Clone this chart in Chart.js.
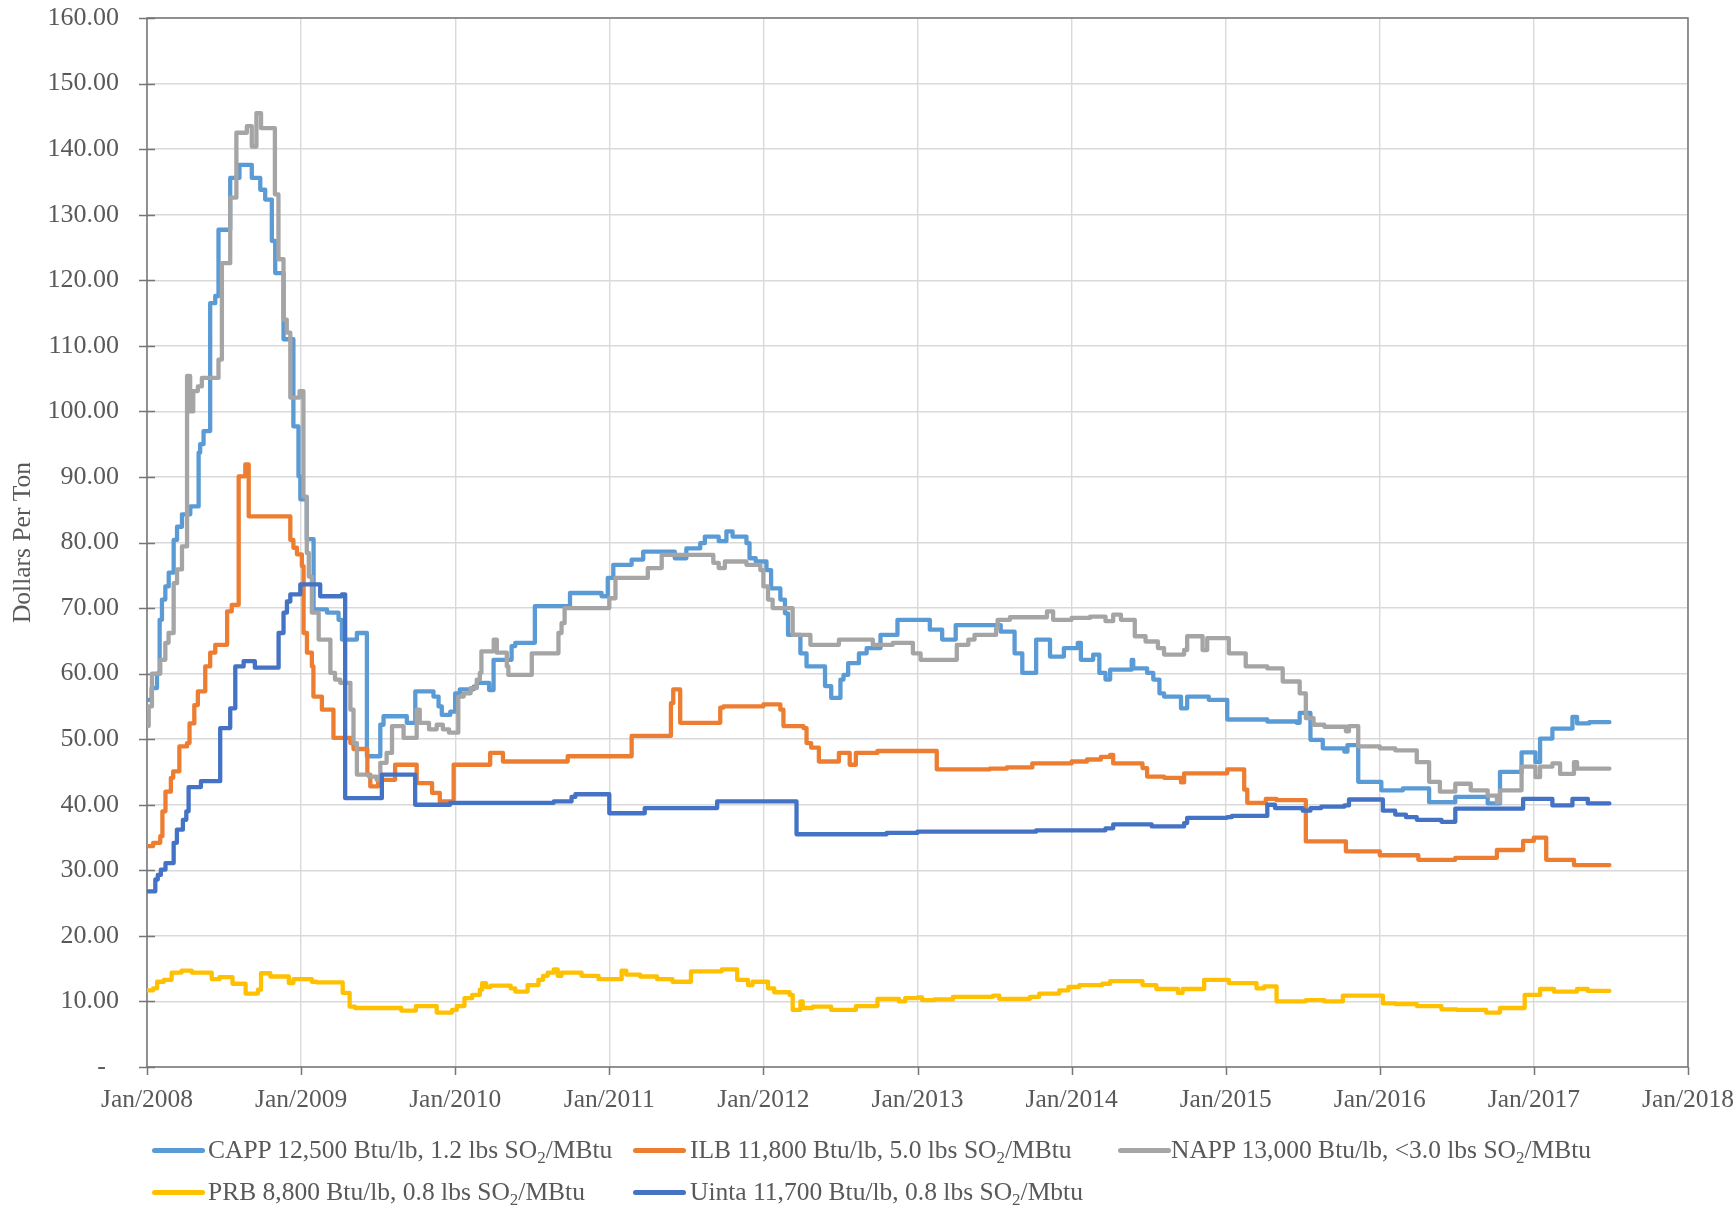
<!DOCTYPE html>
<html><head><meta charset="utf-8">
<script src="https://cdn.jsdelivr.net/npm/chart.js@4.4.0/dist/chart.umd.min.js"></script>
<style>
html,body{margin:0;padding:0;background:#fff;}
#wrap{position:relative;width:1736px;height:1208px;overflow:hidden;}
#c{position:absolute;left:0;top:0;}
.lt{position:absolute;font-family:"Liberation Serif","Times New Roman",serif;font-size:25.5px;color:#595959;white-space:nowrap;line-height:26px;}
.sw{position:absolute;height:5px;width:53px;border-radius:3px;}
.lt sub{font-size:17px;vertical-align:-5px;line-height:0;}
</style></head>
<body>
<div id="wrap"><canvas id="c" width="1736" height="1208"></canvas><div id="legend"></div></div>
<script>
// ---- data: [decimal year, $/ton], each value holds until the next point ----
const xTickYears = [2008,2009,2010,2011,2012,2013,2014,2015,2016,2017,2018];
const yTicks = [0,10,20,30,40,50,60,70,80,90,100,110,120,130,140,150,160];

const seriesNames = [
  'CAPP 12,500 Btu/lb, 1.2 lbs SO<sub>2</sub>/MBtu',
  'ILB 11,800 Btu/lb, 5.0 lbs SO<sub>2</sub>/MBtu',
  'NAPP 13,000 Btu/lb, &lt;3.0 lbs SO<sub>2</sub>/MBtu',
  'PRB 8,800 Btu/lb, 0.8 lbs SO<sub>2</sub>/MBtu',
  'Uinta 11,700 Btu/lb, 0.8 lbs SO<sub>2</sub>/Mbtu'
];
const seriesLabels = ['CAPP 12,500 Btu/lb, 1.2 lbs SO2/MBtu','ILB 11,800 Btu/lb, 5.0 lbs SO2/MBtu','NAPP 13,000 Btu/lb, <3.0 lbs SO2/MBtu','PRB 8,800 Btu/lb, 0.8 lbs SO2/MBtu','Uinta 11,700 Btu/lb, 0.8 lbs SO2/Mbtu'];
const seriesColors = ['#5B9BD5','#ED7D31','#A5A5A5','#FFC000','#4472C4'];

const capp = [
 [2008.000,56.0],[2008.030,57.8],[2008.065,60.0],[2008.082,68.2],[2008.097,71.3],[2008.119,73.3],[2008.141,75.4],
 [2008.173,80.4],[2008.195,82.4],[2008.227,84.3],[2008.281,85.5],[2008.335,93.7],[2008.345,95.0],[2008.367,97.0],
 [2008.410,116.5],[2008.443,117.6],[2008.464,127.7],[2008.540,135.6],[2008.600,137.6],[2008.680,135.6],[2008.735,133.8],
 [2008.767,132.3],[2008.810,126.0],[2008.832,121.1],[2008.886,111.0],[2008.950,97.7],[2008.983,90.1],[2008.995,86.6],
 [2009.037,80.5],[2009.081,69.8],[2009.168,69.3],[2009.243,68.2],[2009.265,65.2],[2009.362,66.2],[2009.427,47.4],
 [2009.514,52.2],[2009.535,53.5],[2009.686,52.5],[2009.741,57.3],[2009.859,56.5],[2009.892,55.0],[2009.913,53.7],
 [2009.968,54.2],[2010.000,57.0],[2010.030,57.6],[2010.120,58.0],[2010.141,58.6],[2010.220,57.5],[2010.249,62.1],
 [2010.366,64.2],[2010.390,64.7],[2010.517,70.3],[2010.745,72.3],[2010.950,71.8],[2010.990,74.6],[2011.026,76.6],
 [2011.145,77.4],[2011.220,78.6],[2011.425,77.6],[2011.500,79.1],[2011.590,79.9],[2011.620,80.9],[2011.710,80.2],
 [2011.760,81.7],[2011.800,80.9],[2011.890,79.9],[2011.910,77.6],[2011.950,77.1],[2012.020,75.8],[2012.050,73.0],
 [2012.110,71.3],[2012.140,69.2],[2012.160,65.9],[2012.240,63.1],[2012.280,61.1],[2012.400,58.1],[2012.440,56.3],
 [2012.500,59.1],[2012.520,59.8],[2012.550,61.6],[2012.620,63.1],[2012.670,63.9],[2012.760,65.9],[2012.870,68.2],
 [2013.080,66.7],[2013.160,65.2],[2013.248,67.4],[2013.540,66.4],[2013.630,63.1],[2013.680,60.1],[2013.770,65.2],
 [2013.860,62.6],[2013.950,63.9],[2014.040,64.7],[2014.060,62.1],[2014.140,62.9],[2014.180,60.1],[2014.220,59.1],
 [2014.250,60.6],[2014.390,62.1],[2014.400,60.8],[2014.490,60.1],[2014.530,59.1],[2014.570,57.0],[2014.600,56.5],
 [2014.710,54.7],[2014.750,56.5],[2014.890,56.0],[2015.010,53.0],[2015.270,52.7],[2015.460,52.5],[2015.480,54.0],
 [2015.550,49.9],[2015.630,48.6],[2015.770,48.1],[2015.790,49.1],[2015.860,43.5],[2016.010,42.2],[2016.150,42.5],
 [2016.320,40.4],[2016.490,41.2],[2016.700,40.2],[2016.780,45.0],[2016.920,48.0],[2017.010,46.5],[2017.040,50.1],
 [2017.120,51.6],[2017.250,53.4],[2017.280,52.4],[2017.360,52.6],[2017.490,52.6]
];

const ilb = [
 [2008.000,33.7],[2008.040,34.2],[2008.086,35.2],[2008.100,39.0],[2008.120,42.0],[2008.155,44.1],[2008.170,45.1],
 [2008.210,48.9],[2008.260,49.4],[2008.276,52.4],[2008.307,55.2],[2008.330,57.3],[2008.378,61.1],[2008.410,63.2],
 [2008.443,64.4],[2008.520,69.5],[2008.550,70.5],[2008.595,90.1],[2008.638,91.9],[2008.660,84.0],[2008.930,80.4],
 [2008.950,79.2],[2008.973,78.2],[2009.005,76.4],[2009.016,66.2],[2009.038,63.2],[2009.070,61.1],[2009.080,56.5],
 [2009.135,54.5],[2009.210,50.2],[2009.320,49.4],[2009.340,48.5],[2009.430,44.6],[2009.449,42.8],[2009.500,43.8],
 [2009.610,46.1],[2009.750,43.3],[2009.850,41.8],[2009.900,40.5],[2009.990,46.1],[2010.227,47.9],[2010.310,46.6],
 [2010.730,47.4],[2011.145,50.5],[2011.400,55.5],[2011.415,57.6],[2011.460,52.5],[2011.720,54.8],[2011.740,55.0],
 [2012.000,55.3],[2012.110,54.5],[2012.130,52.0],[2012.260,51.7],[2012.280,49.4],[2012.310,48.7],[2012.360,46.6],
 [2012.490,47.9],[2012.560,46.1],[2012.600,47.9],[2012.740,48.2],[2013.125,45.4],[2013.470,45.5],[2013.580,45.7],
 [2013.745,46.3],[2014.000,46.6],[2014.100,46.9],[2014.190,47.3],[2014.250,47.6],[2014.270,46.3],[2014.460,45.6],
 [2014.490,44.3],[2014.600,44.1],[2014.710,43.4],[2014.730,44.8],[2015.010,45.4],[2015.120,42.3],[2015.140,40.3],
 [2015.260,40.9],[2015.330,40.7],[2015.520,34.4],[2015.780,32.9],[2016.000,32.3],[2016.250,31.6],[2016.490,31.9],
 [2016.760,33.1],[2016.930,34.5],[2017.000,35.0],[2017.080,31.6],[2017.260,30.8],[2017.490,30.8]
];

const napp = [
 [2008.000,52.0],[2008.011,55.0],[2008.032,60.0],[2008.086,62.1],[2008.119,64.7],[2008.140,66.2],[2008.173,73.8],
 [2008.195,75.9],[2008.227,79.4],[2008.260,105.4],[2008.280,100.0],[2008.300,103.1],[2008.330,103.8],[2008.356,105.1],
 [2008.464,107.9],[2008.486,122.6],[2008.540,132.6],[2008.580,142.5],[2008.648,143.5],[2008.680,140.4],[2008.710,145.5],
 [2008.740,143.2],[2008.830,133.1],[2008.853,123.2],[2008.886,114.0],[2008.907,112.0],[2008.930,102.1],[2008.990,103.1],
 [2009.015,87.0],[2009.037,78.4],[2009.050,74.8],[2009.070,69.3],[2009.114,65.2],[2009.190,60.1],[2009.220,59.1],
 [2009.254,58.6],[2009.320,54.5],[2009.340,49.4],[2009.362,44.6],[2009.440,44.3],[2009.490,43.8],[2009.514,46.4],
 [2009.555,47.9],[2009.590,52.0],[2009.665,50.2],[2009.750,54.5],[2009.770,52.5],[2009.830,51.5],[2009.880,52.2],
 [2009.920,51.5],[2009.960,51.0],[2010.020,56.5],[2010.055,57.0],[2010.100,57.8],[2010.140,59.1],[2010.160,60.1],
 [2010.170,63.4],[2010.250,65.2],[2010.270,63.2],[2010.335,61.1],[2010.345,59.8],[2010.497,63.1],[2010.670,66.2],
 [2010.690,67.7],[2010.710,70.0],[2011.000,71.5],[2011.040,74.6],[2011.250,76.1],[2011.340,78.1],[2011.675,76.9],
 [2011.710,76.1],[2011.750,77.1],[2011.890,76.6],[2011.980,75.8],[2012.000,73.3],[2012.030,71.3],[2012.060,70.0],
 [2012.190,65.9],[2012.305,64.4],[2012.490,65.2],[2012.710,64.4],[2012.840,64.7],[2012.970,63.1],[2013.020,62.1],
 [2013.255,64.4],[2013.330,65.2],[2013.370,65.9],[2013.510,66.9],[2013.520,68.2],[2013.600,68.6],[2013.840,69.5],
 [2013.880,68.2],[2014.000,68.5],[2014.120,68.7],[2014.220,68.0],[2014.270,69.0],[2014.320,68.2],[2014.410,65.7],
 [2014.480,64.9],[2014.560,63.9],[2014.600,62.9],[2014.730,63.6],[2014.750,65.7],[2014.850,63.6],[2014.880,65.4],
 [2015.020,63.1],[2015.130,61.1],[2015.270,60.8],[2015.370,58.8],[2015.480,57.0],[2015.520,53.2],[2015.570,52.2],
 [2015.640,51.9],[2015.780,51.2],[2015.800,52.0],[2015.860,48.9],[2016.000,48.6],[2016.100,48.3],[2016.240,46.5],
 [2016.320,43.5],[2016.390,42.0],[2016.490,43.2],[2016.590,42.2],[2016.700,41.4],[2016.760,40.4],[2016.780,42.2],
 [2016.920,45.8],[2017.010,44.2],[2017.040,45.8],[2017.120,46.3],[2017.170,44.7],[2017.260,46.5],[2017.280,45.5],
 [2017.490,45.5]
];

const prb = [
 [2008.000,11.7],[2008.040,12.0],[2008.066,13.0],[2008.110,13.3],[2008.160,14.4],[2008.225,14.7],[2008.290,14.4],
 [2008.420,13.4],[2008.470,13.7],[2008.555,12.7],[2008.640,11.2],[2008.720,11.8],[2008.740,14.3],[2008.800,13.8],
 [2008.920,12.8],[2008.950,13.4],[2009.070,13.0],[2009.100,12.9],[2009.270,11.3],[2009.315,9.2],[2009.350,9.0],
 [2009.650,8.6],[2009.745,9.3],[2009.880,8.3],[2009.980,8.7],[2010.010,9.3],[2010.060,10.5],[2010.110,11.0],
 [2010.160,11.8],[2010.175,12.8],[2010.200,12.2],[2010.230,12.4],[2010.360,12.0],[2010.390,11.5],[2010.470,12.5],
 [2010.540,13.3],[2010.570,13.9],[2010.600,14.4],[2010.640,14.9],[2010.665,13.9],[2010.690,14.4],[2010.820,13.9],
 [2010.930,13.4],[2011.080,14.7],[2011.110,14.1],[2011.200,13.8],[2011.310,13.4],[2011.410,13.0],[2011.530,14.6],
 [2011.730,14.9],[2011.830,13.3],[2011.900,12.5],[2011.930,13.0],[2012.030,12.0],[2012.070,11.4],[2012.170,11.0],
 [2012.190,8.7],[2012.240,10.0],[2012.255,9.0],[2012.320,9.2],[2012.440,8.7],[2012.600,9.3],[2012.740,10.4],
 [2012.880,10.0],[2012.920,10.5],[2013.000,10.6],[2013.030,10.2],[2013.110,10.3],[2013.230,10.7],[2013.490,10.9],
 [2013.530,10.4],[2013.730,10.7],[2013.790,11.2],[2013.920,11.7],[2013.980,12.2],[2014.050,12.5],[2014.200,12.7],
 [2014.250,13.1],[2014.460,12.5],[2014.550,11.9],[2014.690,11.3],[2014.720,11.9],[2014.860,13.3],[2015.020,12.8],
 [2015.200,12.0],[2015.250,12.3],[2015.330,10.0],[2015.520,10.2],[2015.640,10.0],[2015.760,10.9],[2016.020,9.7],
 [2016.100,9.6],[2016.240,9.3],[2016.400,8.8],[2016.500,8.7],[2016.690,8.3],[2016.780,9.0],[2016.940,11.0],
 [2017.040,11.9],[2017.130,11.5],[2017.280,11.9],[2017.350,11.6],[2017.490,11.6]
];

const uinta = [
 [2008.000,26.8],[2008.054,28.6],[2008.070,29.3],[2008.090,30.1],[2008.120,31.1],[2008.173,34.2],[2008.194,36.2],
 [2008.233,37.7],[2008.255,39.0],[2008.270,42.7],[2008.350,43.6],[2008.475,51.7],[2008.540,54.7],[2008.573,61.1],
 [2008.627,61.9],[2008.700,60.9],[2008.854,66.2],[2008.886,69.3],[2008.908,71.0],[2008.930,72.1],[2008.995,73.6],
 [2009.124,71.8],[2009.265,72.1],[2009.286,41.0],[2009.524,44.6],[2009.740,40.0],[2009.967,40.3],[2010.640,40.5],
 [2010.755,41.2],[2010.780,41.6],[2011.000,38.7],[2011.230,39.5],[2011.700,40.5],[2012.215,35.5],[2012.800,35.7],
 [2013.000,35.9],[2013.770,36.1],[2014.220,36.4],[2014.270,37.0],[2014.520,36.7],[2014.730,37.2],[2014.750,38.0],
 [2015.010,38.1],[2015.040,38.3],[2015.270,40.0],[2015.320,39.5],[2015.500,39.1],[2015.550,39.5],[2015.620,39.7],
 [2015.770,39.9],[2015.800,40.8],[2016.020,39.1],[2016.100,38.5],[2016.170,38.1],[2016.240,37.7],[2016.400,37.4],
 [2016.490,39.4],[2016.930,40.9],[2017.120,39.9],[2017.250,40.9],[2017.350,40.2],[2017.490,40.2]
];

const seriesData = [capp, ilb, napp, prb, uinta];

// ---- chart ----
const FAMILY = '"Liberation Serif","Times New Roman",serif';
const YFONT = {family: FAMILY, size: 26};
const XFONT = {family: FAMILY, size: 25.5};
const TXT = '#595959';
const AXIS = '#767676';

const framePlugin = {
  id:'frame',
  beforeDatasetsDraw(chart){
    const {ctx, chartArea:a, scales} = chart;
    ctx.save();
    ctx.strokeStyle = AXIS;
    ctx.lineWidth = 1.5;
    ctx.strokeRect(a.left, a.top, a.right - a.left, a.bottom - a.top);
    ctx.beginPath();
    scales.y.ticks.forEach(t => {
      const y = Math.round(scales.y.getPixelForValue(t.value)) + 0.5;
      ctx.moveTo(a.left - 8, y); ctx.lineTo(a.left + 8, y);
    });
    scales.x.ticks.forEach(t => {
      const x = Math.round(scales.x.getPixelForValue(t.value)) + 0.5;
      ctx.moveTo(x, a.bottom); ctx.lineTo(x, a.bottom + 8);
    });
    ctx.stroke();
    ctx.restore();
  }
};

const datasets = seriesData.map((s, i) => ({
  label: seriesLabels[i],
  data: s.map(p => ({x:p[0], y:p[1]})),
  borderColor: seriesColors[i],
  backgroundColor: seriesColors[i],
  borderWidth: 4.3,
  pointRadius: 0,
  stepped: true,
  fill: false,
  borderJoinStyle: 'round',
  borderCapStyle: 'round',
  order: 5 - i
}));

new Chart(document.getElementById('c'), {
  type: 'line',
  data: {datasets},
  options: {
    responsive: false,
    animation: false,
    layout: {padding: {top: 18, right: 48, left: 0, bottom: 0}},
    plugins: {legend: {display: false}, tooltip: {enabled: false}},
    scales: {
      x: {
        type: 'linear', min: xTickYears[0], max: xTickYears[xTickYears.length - 1],
        afterBuildTicks(s){ s.ticks = xTickYears.map(v => ({value: v})); },
        ticks: {callback: v => 'Jan/' + Math.round(v), font: XFONT, color: TXT, padding: 0, maxRotation: 0, autoSkip: false},
        grid: {color: '#D9D9D9', lineWidth: 1.4, drawTicks: true, tickLength: 18, tickColor: 'rgba(0,0,0,0)'},
        border: {display: false},
        afterFit(s){ s.height = 141; }
      },
      y: {
        min: yTicks[0], max: yTicks[yTicks.length - 1],
        afterBuildTicks(s){ s.ticks = yTicks.map(v => ({value: v})); },
        ticks: {callback: v => v === 0 ? '-  ' : Number(v).toFixed(2), font: YFONT, color: TXT, padding: 0},
        grid: {color: '#D9D9D9', lineWidth: 1.4, drawTicks: true, tickLength: 28, tickColor: 'rgba(0,0,0,0)'},
        border: {display: false},
        title: {display: true, text: 'Dollars Per Ton', font: XFONT, color: TXT, padding: {top: 8, bottom: 0}},
        afterFit(s){ s.width = 147; }
      }
    }
  },
  plugins: [framePlugin]
});

// ---- legend (HTML, for the SO2 subscript) ----
const legendPos = [[152,208,1150],[633,690,1150],[1118,1171,1150],[152,208,1192],[633,690,1192]];
const leg = document.getElementById('legend');
seriesNames.forEach((n, i) => {
  const [sx, tx, yc] = legendPos[i];
  const sw = document.createElement('div');
  sw.className = 'sw';
  sw.style.left = sx + 'px'; sw.style.top = (yc - 2.5) + 'px'; sw.style.background = seriesColors[i];
  leg.appendChild(sw);
  const t = document.createElement('div');
  t.className = 'lt';
  t.style.left = tx + 'px'; t.style.top = (yc - 13) + 'px';
  t.innerHTML = n;
  leg.appendChild(t);
});
</script>
</body></html>
